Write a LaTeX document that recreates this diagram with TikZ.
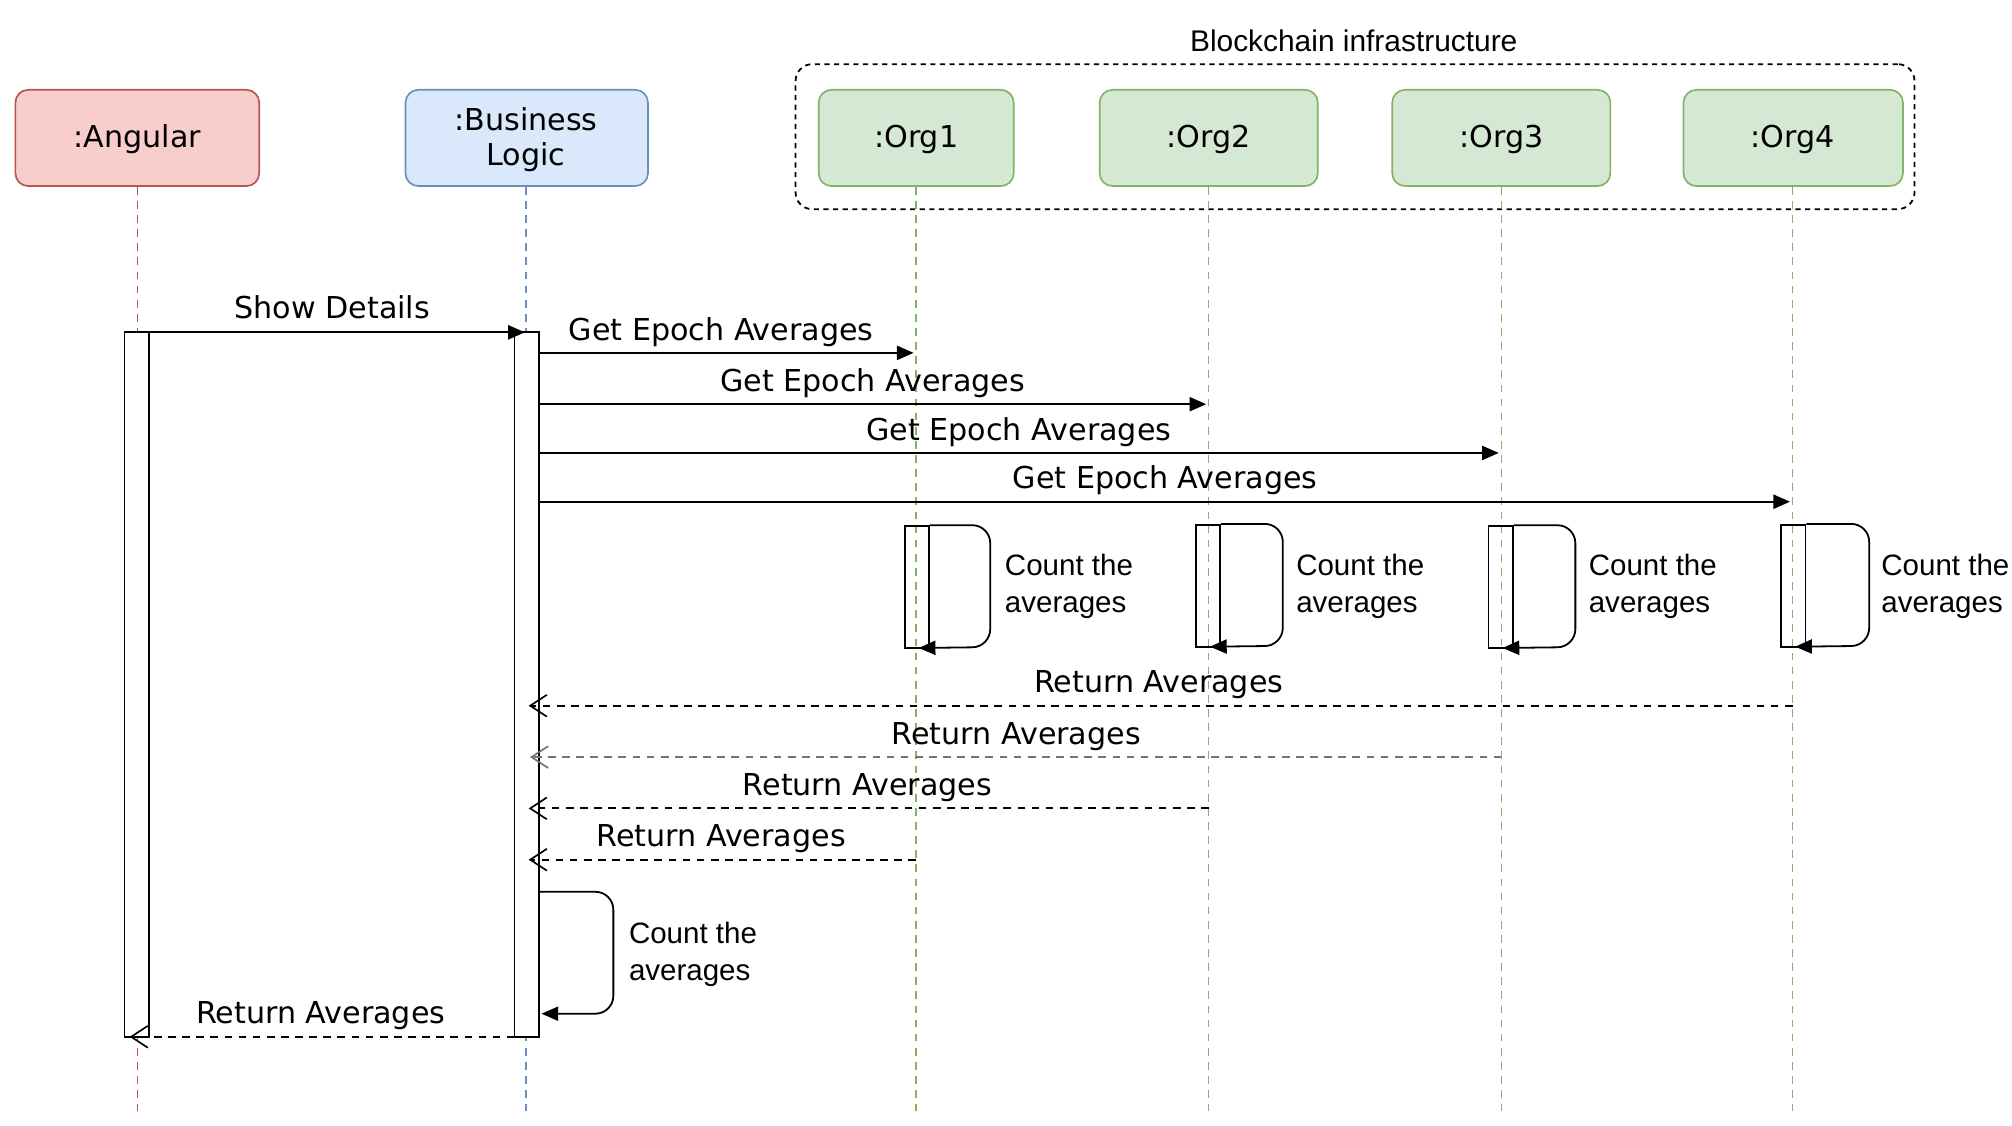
\documentclass[tikz,border=0pt]{standalone}
\usepackage{fontspec}
\setmainfont{DejaVu Sans}
\newfontfamily\libsans{Liberation Sans}
\usetikzlibrary{arrows.meta}
\definecolor{redS}{HTML}{B85450}
\definecolor{redF}{HTML}{F8CECC}
\definecolor{bluS}{HTML}{6C8EBF}
\definecolor{bluF}{HTML}{DAE8FC}
\definecolor{grnS}{HTML}{82B366}
\definecolor{grnF}{HTML}{D5E8D4}
\begin{document}
\begin{tikzpicture}[x=1pt,y=-1pt,
  head/.style={draw, line width=1.3pt, rounded corners=10pt, minimum height=75pt, inner sep=0pt, align=center,
    font=\fontsize{23.5}{27}\selectfont},
  lifeline/.style={line width=1.1pt, dash pattern=on 6pt off 5pt},
  act/.style={draw, line width=1.4pt, minimum width=19pt, inner sep=0pt},
  call/.style={line width=1.6pt, -{Triangle[length=13pt,width=11pt]}},
  ret/.style={line width=1.5pt, dash pattern=on 6pt off 5pt, -{Straight Barb[length=13pt,width=17pt,line width=1.3pt]}},
  loop/.style={line width=1.4pt, rounded corners=14pt, -{Triangle[length=13pt,width=11pt]}},
  lbl/.style={inner sep=0pt, anchor=base, font=\fontsize{23.5}{28}\selectfont},
  note/.style={inner sep=0pt, anchor=west, align=left, font=\libsans\fontsize{23}{29}\selectfont}
]
\useasboundingbox (0,0) rectangle (1568,877);

% container
\node[draw, line width=1.4pt, dash pattern=on 4pt off 3.5pt, rounded corners=13pt,
  minimum width=872pt, minimum height=113pt, inner sep=0pt] (chain) at (1056,106.5) {};
\node[inner sep=0pt, anchor=base, font=\libsans\fontsize{23.3}{28}\selectfont] (chainlbl) at (1055,40) {Blockchain infrastructure};

% heads
\node[head, draw=redS, fill=redF, minimum width=190pt] (ang) at (107,107.5) {};
\node[lbl] (angT) at (107,115) {:Angular};
\node[head, draw=bluS, fill=bluF, minimum width=189pt] (bl) at (410.5,107.5) {};
\node[inner sep=0pt, align=center, font=\fontsize{23.5}{27}\selectfont] (blT) at (410,109) {:Business\\Logic};
\node[head, draw=grnS, fill=grnF, minimum width=152pt] (o1) at (714,107.5) {};
\node[head, draw=grnS, fill=grnF, minimum width=170pt] (o2) at (942,107.5) {};
\node[head, draw=grnS, fill=grnF, minimum width=170pt] (o3) at (1170,107.5) {};
\node[head, draw=grnS, fill=grnF, minimum width=171pt] (o4) at (1397.5,107.5) {};
\node[lbl] (o1T) at (714,115) {:Org1};
\node[lbl] (o2T) at (942,115) {:Org2};
\node[lbl] (o3T) at (1170,115) {:Org3};
\node[lbl] (o4T) at (1397,115) {:Org4};

% lifeline ends
\coordinate (angE) at (107,866);
\coordinate (blE) at (410,866);
\coordinate (o1E) at (714,866);
\coordinate (o2E) at (942,866);
\coordinate (o3E) at (1170,866);
\coordinate (o4E) at (1397,866);
\draw[lifeline, draw=redS] (ang.south) -- (angE);
\draw[lifeline, draw=bluS] (bl.south -| blE) -- (blE);
\draw[lifeline, draw=grnS] (o1.south) -- (o1E);
\draw[lifeline, draw=grnS] (o2.south) -- (o2E);
\draw[lifeline, draw=grnS] (o3.south) -- (o3E);
\draw[lifeline, draw=grnS] (o4.south -| o4E) -- (o4E);

% activations
\node[act, fill=white, minimum height=549pt] (angA) at (106.5,533.5) {};
\node[act, fill=white, minimum height=549pt] (blA) at (410.5,533.5) {};
\node[act, minimum height=95pt] (o1A) at (714.5,457.5) {};
\node[act, minimum height=95pt] (o2A) at (941.5,456.5) {};
\node[act, minimum height=95pt] (o3A) at (1169.5,457.5) {};
\node[act, minimum height=95pt] (o4A) at (1397.5,456.5) {};

% Show Details
\coordinate (sdS) at (116,259);
\coordinate (sdE) at (409,259);
\draw[call] (sdS) -- (sdE);
\node[lbl] (sdL) at (259,248) {Show Details};

% Get Epoch Averages
\coordinate (g1S) at (420,275); \coordinate (g1E) at (712,275);
\coordinate (g2S) at (420,315); \coordinate (g2E) at (940,315);
\coordinate (g3S) at (420,353); \coordinate (g3E) at (1168,353);
\coordinate (g4S) at (420,391); \coordinate (g4E) at (1395,391);
\draw[call] (g1S) -- (g1E);
\draw[call] (g2S) -- (g2E);
\draw[call] (g3S) -- (g3E);
\draw[call] (g4S) -- (g4E);
\node[lbl] (g1L) at (562,265) {Get Epoch Averages};
\node[lbl] (g2L) at (680,305) {Get Epoch Averages};
\node[lbl] (g3L) at (794,343) {Get Epoch Averages};
\node[lbl] (g4L) at (908,381) {Get Epoch Averages};

% self loops at orgs
\draw[loop] (o1A.north east) -- ++(47,0) -- ++(0,95) -- (716,505);
\draw[loop] (o2A.north east) -- ++(48,0) -- ++(0,95) -- (943,504);
\draw[loop] (o3A.north east) -- ++(48,0) -- ++(0,95) -- (1171,505);
\draw[loop] (o4A.north east) -- ++(49,0) -- ++(0,95) -- (1399,504);
\node[note] (c1) at (783,457) {Count the\\averages};
\node[note] (c2) at (1010,457) {Count the\\averages};
\node[note] (c3) at (1238,457) {Count the\\averages};
\node[note] (c4) at (1466,457) {Count the\\averages};

% returns
\coordinate (r4S) at (1397,550); \coordinate (r4E) at (412,550);
\coordinate (r3S) at (1170,590); \coordinate (r3E) at (413,590);
\coordinate (r2S) at (942,630); \coordinate (r2E) at (412,630);
\coordinate (r1S) at (714,670); \coordinate (r1E) at (412,670);
\draw[ret] (r4S) -- (r4E);
\draw[ret, draw=black!55] (r3S) -- (r3E);
\draw[ret] (r2S) -- (r2E);
\draw[ret] (r1S) -- (r1E);
\node[lbl] (r4L) at (903,540) {Return Averages};
\node[lbl] (r3L) at (792,580) {Return Averages};
\node[lbl] (r2L) at (676,620) {Return Averages};
\node[lbl] (r1L) at (562,660) {Return Averages};

% BL self loop
\coordinate (blLS) at (420,695);
\coordinate (blLE) at (422,790);
\draw[loop] (blLS) -- (478,695) -- (478,790) -- (blLE);
\node[note] (cB) at (490,744) {Count the\\averages};

% final return
\coordinate (raS) at (401,808);
\coordinate (raE) at (101,808);
\draw[ret] (raS) -- (raE);
\node[lbl] (raL) at (250,798) {Return Averages};
\end{tikzpicture}
\end{document}
